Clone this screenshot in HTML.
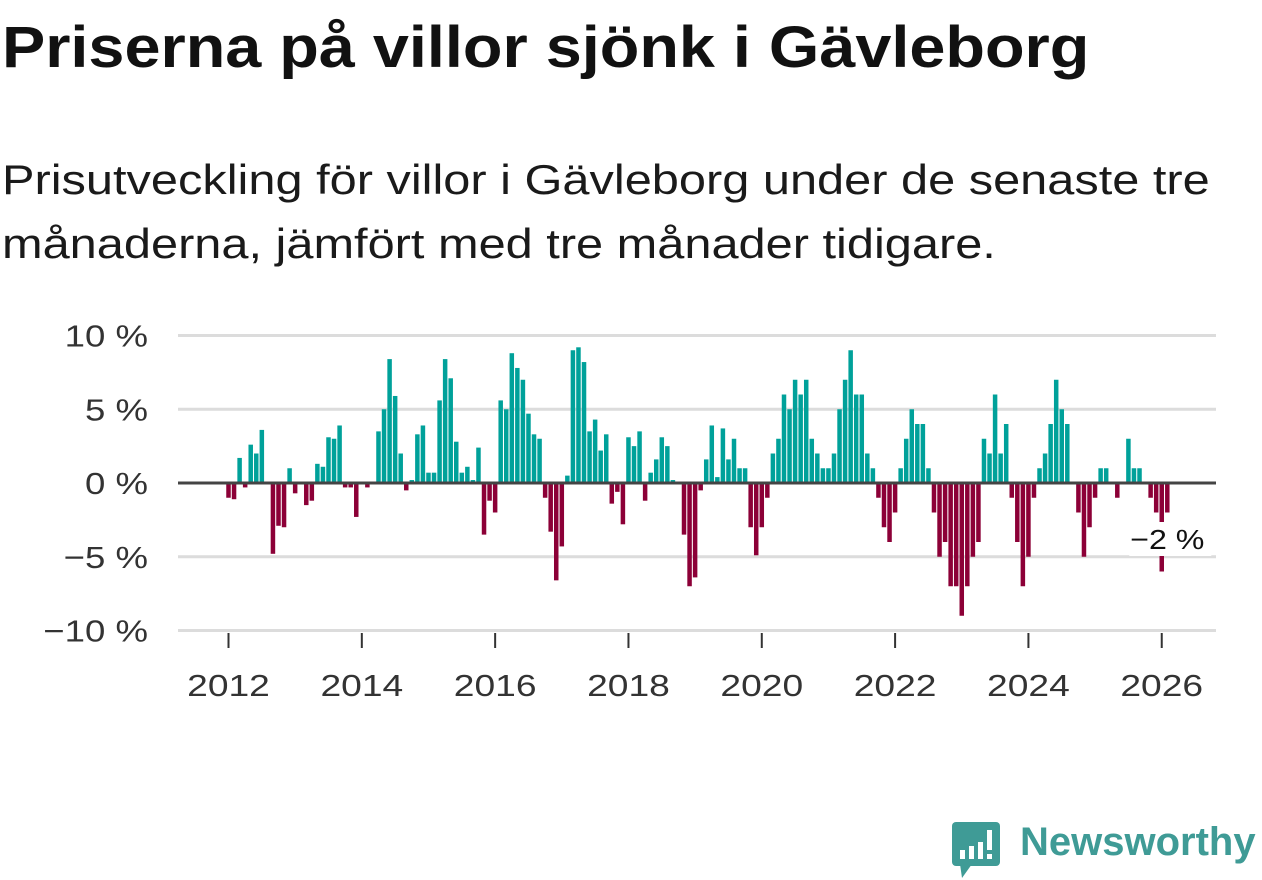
<!DOCTYPE html>
<html><head><meta charset="utf-8">
<style>
html,body{margin:0;padding:0;background:#fff;}
body{width:1262px;height:879px;position:relative;overflow:hidden;font-family:"Liberation Sans",sans-serif;color:#111;}
#title{position:absolute;left:2px;top:19px;font-size:58px;line-height:58px;font-weight:bold;margin:0;color:#111;white-space:nowrap;transform:scaleX(1.117);transform-origin:0 0;}
#subtitle{position:absolute;left:2px;top:148px;font-size:42px;line-height:64px;color:#1a1a1a;white-space:nowrap;transform:scaleX(1.16);transform-origin:0 0;}
svg{position:absolute;left:0;top:0;}
</style></head>
<body>
<h1 id="title">Priserna på villor sjönk i Gävleborg</h1>
<div id="subtitle">Prisutveckling för villor i Gävleborg under de senaste tre<br>månaderna, jämfört med tre månader tidigare.</div>
<svg id="chart" width="1262" height="879"></svg>
<div style="position:absolute;left:950px;top:818px;">
<svg width="52" height="60" style="position:absolute;left:0;top:2px;">
<rect x="2" y="2" width="48" height="44" rx="4" fill="#3f9b96"/>
<polygon points="10,44 22,44 12,58" fill="#3f9b96"/>
<rect x="10" y="30" width="5" height="9" fill="#fff"/><rect x="19" y="26" width="5" height="13" fill="#fff"/><rect x="28" y="22" width="5" height="17" fill="#fff"/><rect x="37" y="10" width="5" height="20" fill="#fff"/><rect x="37" y="34" width="5" height="5" fill="#fff"/>
</svg>
<span style="position:absolute;left:70px;top:2px;font-size:40px;color:#3f9b96;font-weight:bold;white-space:nowrap;transform:scaleX(1.0);transform-origin:0 0;">Newsworthy</span>
</div>
<script>
const values = [
-1,-1.1,1.7,-0.3,2.6,2.0,3.6,0,-4.8,-2.9,-3.0,1.0,
-0.7,0,-1.5,-1.2,1.3,1.1,3.1,3.0,3.9,-0.3,-0.3,-2.3,
0,-0.3,-0.1,3.5,5.0,8.4,5.9,2.0,-0.5,0.2,3.3,3.9,
0.7,0.7,5.6,8.4,7.1,2.8,0.7,1.1,0.2,2.4,-3.5,-1.2,
-2.0,5.6,5.0,8.8,7.8,7.0,4.7,3.3,3.0,-1.0,-3.3,-6.6,
-4.3,0.5,9.0,9.2,8.2,3.5,4.3,2.2,3.3,-1.4,-0.6,-2.8,
3.1,2.5,3.5,-1.2,0.7,1.6,3.1,2.5,0.2,0,-3.5,-7.0,
-6.4,-0.5,1.6,3.9,0.4,3.7,1.6,3.0,1.0,1.0,-3.0,-4.9,
-3.0,-1.0,2.0,3.0,6.0,5.0,7.0,6.0,7.0,3.0,2.0,1.0,
1.0,2.0,5.0,7.0,9.0,6.0,6.0,2.0,1.0,-1.0,-3.0,-4.0,
-2.0,1.0,3.0,5.0,4.0,4.0,1.0,-2.0,-5.0,-4.0,-7.0,-7.0,
-9.0,-7.0,-5.0,-4.0,3.0,2.0,6.0,2.0,4.0,-1.0,-4.0,-7.0,
-5.0,-1.0,1.0,2.0,4.0,7.0,5.0,4.0,0,-2.0,-5.0,-3.0,
-1.0,1.0,1.0,0,-1.0,0,3.0,1.0,1.0,0,-1.0,-2.0,
-6.0,-2.0
];
const startYear = 2012;
const yTicks = [10,5,0,-5,-10];
const yTickLabels = ["10 %","5 %","0 %","−5 %","−10 %"];
const xTickYears = [2012,2014,2016,2018,2020,2022,2024,2026];
const lastLabel = "−2 %";

const NS="http://www.w3.org/2000/svg";
const svg=document.getElementById('chart');
const y0=483, pxPer=14.75;
const yScale=v=>y0-v*pxPer;
const x0=228.5, monthW=5.555;
const xScale=i=>x0+i*monthW;
const yearX=y=>xScale((y-startYear)*12);
function mk(t,a){const e=document.createElementNS(NS,t);for(const k in a)e.setAttribute(k,a[k]);svg.appendChild(e);return e;}

yTicks.forEach((t,i)=>{
  if(t!==0){const g=mk('line',{x1:178,x2:1216,y1:yScale(t),y2:yScale(t),stroke:'#dcdcdc','stroke-width':3});
  
  }
  const l=mk('text',{x:0,y:0,transform:`translate(148,${yScale(t)+11}) scale(1.18,1)`,'text-anchor':'end','font-size':31,fill:'#333','font-family':'Liberation Sans, sans-serif'});
  l.textContent=yTickLabels[i];
  
  
});
xTickYears.forEach(yr=>{
  const x=yearX(yr);
  const tk=mk('line',{x1:x,x2:x,y1:633,y2:648,stroke:'#333','stroke-width':2});
  
  
  const l=mk('text',{x:0,y:0,transform:`translate(${x},696) scale(1.2,1)`,'text-anchor':'middle','font-size':31,fill:'#333','font-family':'Liberation Sans, sans-serif'});
  l.textContent=yr;
  
  
});
values.forEach((v,i)=>{
  const x=xScale(i)-2.25;
  const top=Math.min(yScale(v),y0), h=Math.abs(yScale(v)-y0);
  const r=mk('rect',{x:x,y:top,width:4.5,height:h,fill:v>=0?'#00a19a':'#8c0037'});
  
  
});
const z=mk('line',{x1:178,x2:1216,y1:y0,y2:y0,stroke:'#444','stroke-width':3});


const li=values.length-1;
const bg=mk('rect',{x:xScale(li)-38,y:522,width:82,height:34,fill:'#fff'});


const lab=mk('text',{x:0,y:0,transform:`translate(${xScale(li)},549) scale(1.15,1)`,'text-anchor':'middle','font-size':28,fill:'#111','font-family':'Liberation Sans, sans-serif'});
lab.textContent=lastLabel;


</script>
</body></html>
